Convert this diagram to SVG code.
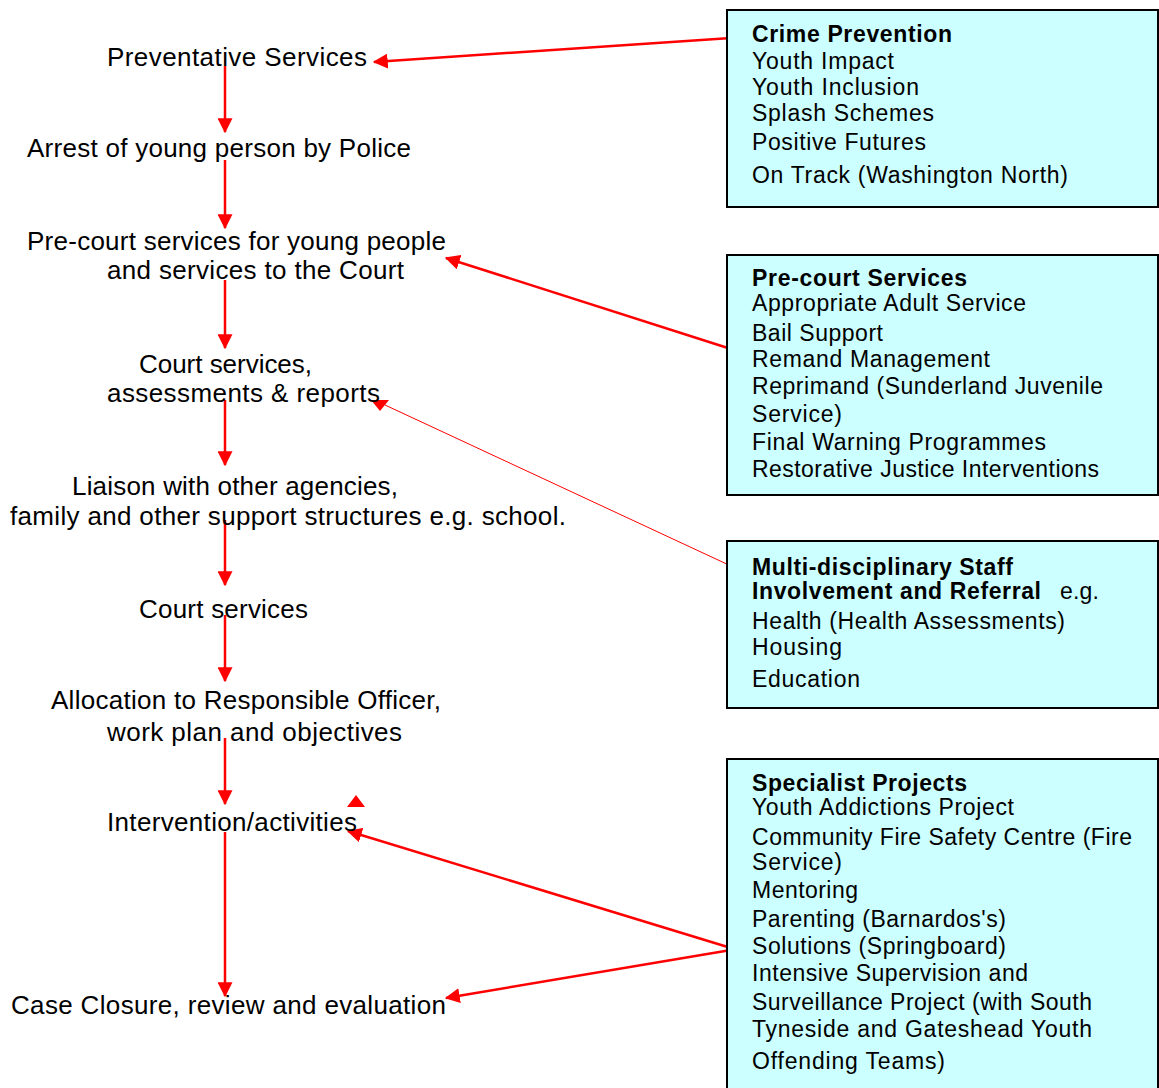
<svg xmlns="http://www.w3.org/2000/svg" width="1159" height="1088" viewBox="0 0 1159 1088">
<style>
.lt{font-family:"Liberation Sans",Arial,sans-serif;font-size:26px;fill:#000}
.bt{font-family:"Liberation Sans",Arial,sans-serif;font-size:23px;fill:#000}
.bb{font-family:"Liberation Sans",Arial,sans-serif;font-size:23px;font-weight:bold;fill:#000}
.box{fill:#ccffff;stroke:#000;stroke-width:2}
.con{stroke:#ff0000;stroke-width:2.5;fill:none}
.thin{stroke:#ff0000;stroke-width:1;fill:none}
.head{fill:#ff0000}
</style>
<defs>
<marker id="ah" markerWidth="6" markerHeight="6" refX="5.5" refY="3" orient="auto" markerUnits="strokeWidth">
<path d="M0,0 L6,3 L0,6 Z" fill="#ff0000"/>
</marker>
</defs>
<rect width="1159" height="1088" fill="#fff"/>
<g id="connectors">
<line class="con" x1="225" y1="66" x2="225" y2="132" marker-end="url(#ah)"/>
<line class="con" x1="225" y1="160" x2="225" y2="228" marker-end="url(#ah)"/>
<line class="con" x1="225" y1="280" x2="225" y2="348" marker-end="url(#ah)"/>
<line class="con" x1="225" y1="400" x2="225" y2="465" marker-end="url(#ah)"/>
<line class="con" x1="225" y1="520" x2="225" y2="585" marker-end="url(#ah)"/>
<line class="con" x1="225" y1="615" x2="225" y2="681" marker-end="url(#ah)"/>
<line class="con" x1="225" y1="738" x2="225" y2="804" marker-end="url(#ah)"/>
<line class="con" x1="225" y1="832" x2="225" y2="996" marker-end="url(#ah)"/>
<line class="con" x1="731" y1="38" x2="374" y2="62" marker-end="url(#ah)"/>
<line class="con" x1="731" y1="349" x2="446" y2="258" marker-end="url(#ah)"/>
<line class="thin" x1="731" y1="566" x2="385" y2="405"/>
<polygon class="head" points="371,400 389,400 380,411"/>
<polygon class="head" points="356,795 347,807 365,807"/>
<line class="con" x1="731" y1="948" x2="348" y2="831" marker-end="url(#ah)"/>
<line class="con" x1="731" y1="950" x2="446" y2="998" marker-end="url(#ah)"/>
</g>
<g id="n-preventative"><text class="lt" x="107" y="66" textLength="260" lengthAdjust="spacing">Preventative Services</text></g>
<g id="n-arrest"><text class="lt" x="27" y="157" textLength="384" lengthAdjust="spacing">Arrest of young person by Police</text></g>
<g id="n-precourt">
<text class="lt" x="27" y="250" textLength="419" lengthAdjust="spacing">Pre-court services for young people</text>
<text class="lt" x="107" y="279" textLength="297" lengthAdjust="spacing">and services to the Court</text>
</g>
<g id="n-courtassess">
<text class="lt" x="139" y="373" textLength="173" lengthAdjust="spacing">Court services,</text>
<text class="lt" x="107" y="402" textLength="273" lengthAdjust="spacing">assessments &amp; reports</text>
</g>
<g id="n-liaison">
<text class="lt" x="72" y="495" textLength="326" lengthAdjust="spacing">Liaison with other agencies,</text>
<text class="lt" x="10" y="525" textLength="556" lengthAdjust="spacing">family and other support structures e.g. school.</text>
</g>
<g id="n-court"><text class="lt" x="139" y="618" textLength="169" lengthAdjust="spacing">Court services</text></g>
<g id="n-allocation">
<text class="lt" x="51" y="709" textLength="390" lengthAdjust="spacing">Allocation to Responsible Officer,</text>
<text class="lt" x="107" y="741" textLength="295" lengthAdjust="spacing">work plan and objectives</text>
</g>
<g id="n-intervention"><text class="lt" x="107" y="831" textLength="250" lengthAdjust="spacing">Intervention/activities</text></g>
<g id="n-closure"><text class="lt" x="11" y="1014" textLength="435" lengthAdjust="spacing">Case Closure, review and evaluation</text></g>
<g id="b-crime">
<rect class="box" x="727" y="10" width="431" height="197"/>
<text class="bb" x="752" y="42" textLength="200" lengthAdjust="spacing">Crime Prevention</text>
<text class="bt" x="752" y="69" textLength="142" lengthAdjust="spacing">Youth Impact</text>
<text class="bt" x="752" y="95" textLength="167" lengthAdjust="spacing">Youth Inclusion</text>
<text class="bt" x="752" y="121" textLength="182" lengthAdjust="spacing">Splash Schemes</text>
<text class="bt" x="752" y="150" textLength="174" lengthAdjust="spacing">Positive Futures</text>
<text class="bt" x="752" y="183" textLength="316" lengthAdjust="spacing">On Track (Washington North)</text>
</g>
<g id="b-precourt">
<rect class="box" x="727" y="255" width="431" height="240"/>
<text class="bb" x="752" y="286" textLength="215" lengthAdjust="spacing">Pre-court Services</text>
<text class="bt" x="752" y="311" textLength="274" lengthAdjust="spacing">Appropriate Adult Service</text>
<text class="bt" x="752" y="341" textLength="131" lengthAdjust="spacing">Bail Support</text>
<text class="bt" x="752" y="367" textLength="238" lengthAdjust="spacing">Remand Management</text>
<text class="bt" x="752" y="394" textLength="351" lengthAdjust="spacing">Reprimand (Sunderland Juvenile</text>
<text class="bt" x="752" y="422" textLength="90" lengthAdjust="spacing">Service)</text>
<text class="bt" x="752" y="450" textLength="294" lengthAdjust="spacing">Final Warning Programmes</text>
<text class="bt" x="752" y="477" textLength="347" lengthAdjust="spacing">Restorative Justice Interventions</text>
</g>
<g id="b-multi">
<rect class="box" x="727" y="541" width="431" height="167"/>
<text class="bb" x="752" y="575" textLength="261" lengthAdjust="spacing">Multi-disciplinary Staff</text>
<text class="bb" x="752" y="599" textLength="289" lengthAdjust="spacing">Involvement and Referral</text>
<text class="bt" x="1060" y="599" textLength="39" lengthAdjust="spacing">e.g.</text>
<text class="bt" x="752" y="629" textLength="313" lengthAdjust="spacing">Health (Health Assessments)</text>
<text class="bt" x="752" y="655" textLength="90" lengthAdjust="spacing">Housing</text>
<text class="bt" x="752" y="687" textLength="108" lengthAdjust="spacing">Education</text>
</g>
<g id="b-specialist">
<rect class="box" x="727" y="759" width="431" height="340"/>
<text class="bb" x="752" y="791" textLength="215" lengthAdjust="spacing">Specialist Projects</text>
<text class="bt" x="752" y="815" textLength="262" lengthAdjust="spacing">Youth Addictions Project</text>
<text class="bt" x="752" y="845" textLength="380" lengthAdjust="spacing">Community Fire Safety Centre (Fire</text>
<text class="bt" x="752" y="870" textLength="90" lengthAdjust="spacing">Service)</text>
<text class="bt" x="752" y="898" textLength="106" lengthAdjust="spacing">Mentoring</text>
<text class="bt" x="752" y="927" textLength="254" lengthAdjust="spacing">Parenting (Barnardos's)</text>
<text class="bt" x="752" y="954" textLength="254" lengthAdjust="spacing">Solutions (Springboard)</text>
<text class="bt" x="752" y="981" textLength="276" lengthAdjust="spacing">Intensive Supervision and</text>
<text class="bt" x="752" y="1010" textLength="340" lengthAdjust="spacing">Surveillance Project (with South</text>
<text class="bt" x="752" y="1037" textLength="340" lengthAdjust="spacing">Tyneside and Gateshead Youth</text>
<text class="bt" x="752" y="1069" textLength="193" lengthAdjust="spacing">Offending Teams)</text>
</g>
</svg>
